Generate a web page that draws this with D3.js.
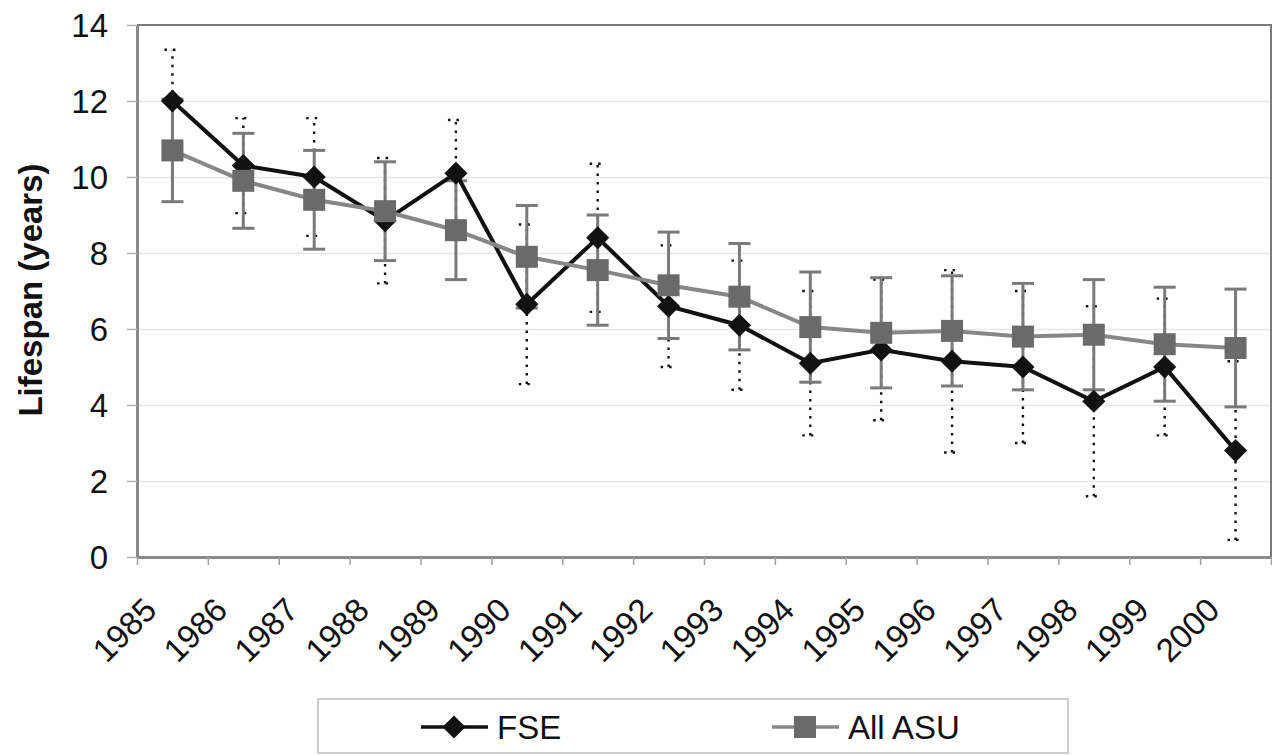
<!DOCTYPE html>
<html>
<head>
<meta charset="utf-8">
<script src="https://cdn.jsdelivr.net/npm/d3@7"></script>
<style>
  html, body { margin: 0; padding: 0; background: #fff; }
  svg text { font-family: "Liberation Sans", Arial, sans-serif; fill: #111; }
</style>
</head>
<body>
<div id="chart"></div>
<script>
/* ── Data ─────────────────────────────────────────────────────────────── */
const years   = ['1985','1986','1987','1988','1989','1990','1991','1992',
                 '1993','1994','1995','1996','1997','1998','1999','2000'];
const fseMean = [12.0, 10.3, 10.0, 8.85, 10.1, 6.65, 8.4, 6.6, 6.1, 5.1, 5.45, 5.15, 5.0, 4.1, 5.0, 2.8];
const fseErr  = [1.35, 1.25, 1.55, 1.65, 1.4, 2.1, 1.95, 1.6, 1.7, 1.9, 1.85, 2.4, 2.0, 2.5, 1.8, 2.35];
const asuMean = [10.7, 9.9, 9.4, 9.1, 8.6, 7.9, 7.55, 7.15, 6.85, 6.05, 5.9, 5.95, 5.8, 5.85, 5.6, 5.5];
const asuErr  = [1.35, 1.25, 1.3, 1.3, 1.3, 1.35, 1.45, 1.4, 1.4, 1.45, 1.45, 1.45, 1.4, 1.45, 1.5, 1.55];
const yTicks  = [0, 2, 4, 6, 8, 10, 12, 14];
const seriesNames = ['FSE', 'All ASU'];

/* ── Colours ──────────────────────────────────────────────────────────── */
const BLACK     = '#111111';
const ASU_LINE  = '#878787';
const ASU_MARK  = '#6a6a6a';
const ASU_ERR   = '#7a7a7a';
const AXIS      = '#8a8a8a';
const GRID      = '#e6e6e6';

const W = 1272, H = 755;
const plot = { left: 137, right: 1271, top: 25, bottom: 557 };

const svg = d3.select('#chart').append('svg')
  .attr('width', W).attr('height', H);

const x = d3.scaleBand().domain(years).range([plot.left, plot.right]).padding(0);
const xEdge = d3.scaleLinear().domain([0, years.length]).range([plot.left, plot.right]);
const y = d3.scaleLinear().domain([0, 14]).range([plot.bottom, plot.top]);
const cx = d => x(d) + x.bandwidth() / 2;

/* ── Gridlines ────────────────────────────────────────────────────────── */
svg.append('g')
  .attr('transform', `translate(${plot.left},0)`)
  .call(d3.axisLeft(y).tickValues(yTicks.slice(1, -1)).tickSize(-(plot.right - plot.left)).tickFormat(''))
  .call(g => g.select('.domain').remove())
  .selectAll('line').attr('stroke', GRID).attr('stroke-width', 1.5);

// frame: top and right
svg.append('path')
  .attr('d', `M${plot.left},${plot.top}H${plot.right}V${plot.bottom}`)
  .attr('fill', 'none').attr('stroke', '#7a7a7a').attr('stroke-width', 2);

/* ── Axes ─────────────────────────────────────────────────────────────── */
const yAxis = svg.append('g')
  .attr('transform', `translate(${plot.left},0)`)
  .call(d3.axisLeft(y).tickValues(yTicks).tickSize(10).tickPadding(19).tickSizeOuter(0));
yAxis.select('.domain').attr('stroke', AXIS).attr('stroke-width', 3);
yAxis.selectAll('line').attr('stroke', '#b0b0b0').attr('stroke-width', 1.5);
yAxis.selectAll('text').style('font-size', '33px').attr('fill', BLACK).attr('dy', '0.36em');

const xAxis = svg.append('g')
  .attr('transform', `translate(0,${plot.bottom})`)
  .call(d3.axisBottom(xEdge).tickValues(d3.range(years.length + 1)).tickSize(8).tickSizeOuter(0).tickFormat(''));
xAxis.select('.domain').attr('stroke', AXIS).attr('stroke-width', 3);
xAxis.selectAll('line').attr('stroke', '#a0a0a0').attr('stroke-width', 1.5);

svg.append('g').selectAll('text')
  .data(years)
  .join('text')
    .attr('transform', d => `translate(${cx(d) - 14},${plot.bottom + 55}) rotate(-45)`)
    .attr('text-anchor', 'end')
    .style('font-size', '33px')
    .text(d => d);

svg.append('text')
  .attr('transform', `translate(42,290) rotate(-90)`)
  .attr('text-anchor', 'middle')
  .style('font-size', '33px')
  .style('font-weight', 'bold')
  .text('Lifespan (years)');

/* ── Error bars ───────────────────────────────────────────────────────── */
function errorBars(means, errs, color, width, dash, capHalf) {
  const g = svg.append('g');
  years.forEach((d, i) => {
    const lo = y(means[i] - errs[i]), hi = y(means[i] + errs[i]);
    const px = cx(d);
    g.append('line').attr('x1', px).attr('x2', px).attr('y1', lo).attr('y2', hi);
    g.append('line').attr('x1', px - capHalf).attr('x2', px + capHalf).attr('y1', lo).attr('y2', lo);
    g.append('line').attr('x1', px - capHalf).attr('x2', px + capHalf).attr('y1', hi).attr('y2', hi);
  });
  g.selectAll('line')
    .attr('stroke', color)
    .attr('stroke-width', width)
    .attr('stroke-dasharray', dash);
}

errorBars(fseMean, fseErr, BLACK, 2.4, '2.5,6', 8);
errorBars(asuMean, asuErr, ASU_ERR, 3, null, 11);

/* ── Lines ────────────────────────────────────────────────────────────── */
const line = vals => d3.line().x((d, i) => cx(years[i])).y(d => y(d))(vals);

svg.append('path').attr('d', line(fseMean))
  .attr('fill', 'none').attr('stroke', BLACK).attr('stroke-width', 4);
svg.append('path').attr('d', line(asuMean))
  .attr('fill', 'none').attr('stroke', ASU_LINE).attr('stroke-width', 4);

/* ── Markers ──────────────────────────────────────────────────────────── */
const diamond = d3.symbol().type(d3.symbolDiamond2).size(340);
svg.append('g').selectAll('path')
  .data(fseMean)
  .join('path')
    .attr('d', diamond)
    .attr('transform', (d, i) => `translate(${cx(years[i])},${y(d)})`)
    .attr('fill', BLACK);

svg.append('g').selectAll('rect')
  .data(asuMean)
  .join('rect')
    .attr('x', (d, i) => cx(years[i]) - 11)
    .attr('y', d => y(d) - 11)
    .attr('width', 22).attr('height', 22)
    .attr('fill', ASU_MARK);

/* ── Legend ───────────────────────────────────────────────────────────── */
const legend = svg.append('g');
legend.append('rect')
  .attr('x', 318).attr('y', 699).attr('width', 750).attr('height', 54)
  .attr('fill', '#fff').attr('stroke', '#bdbdbd').attr('stroke-width', 1.5);

const legendX = [421, 772];
seriesNames.forEach((name, i) => {
  const g = legend.append('g').attr('transform', `translate(${legendX[i]},727)`);
  g.append('line').attr('x1', 0).attr('x2', 67)
    .attr('stroke', i === 0 ? BLACK : ASU_LINE).attr('stroke-width', 3.5);
  if (i === 0) {
    g.append('path').attr('d', diamond).attr('transform', 'translate(33,0)').attr('fill', BLACK);
  } else {
    g.append('rect').attr('x', 22).attr('y', -11).attr('width', 22).attr('height', 22).attr('fill', ASU_MARK);
  }
  g.append('text').attr('x', 76).attr('dy', '0.36em')
    .style('font-size', '33px').text(name);
});
</script>
</body>
</html>
